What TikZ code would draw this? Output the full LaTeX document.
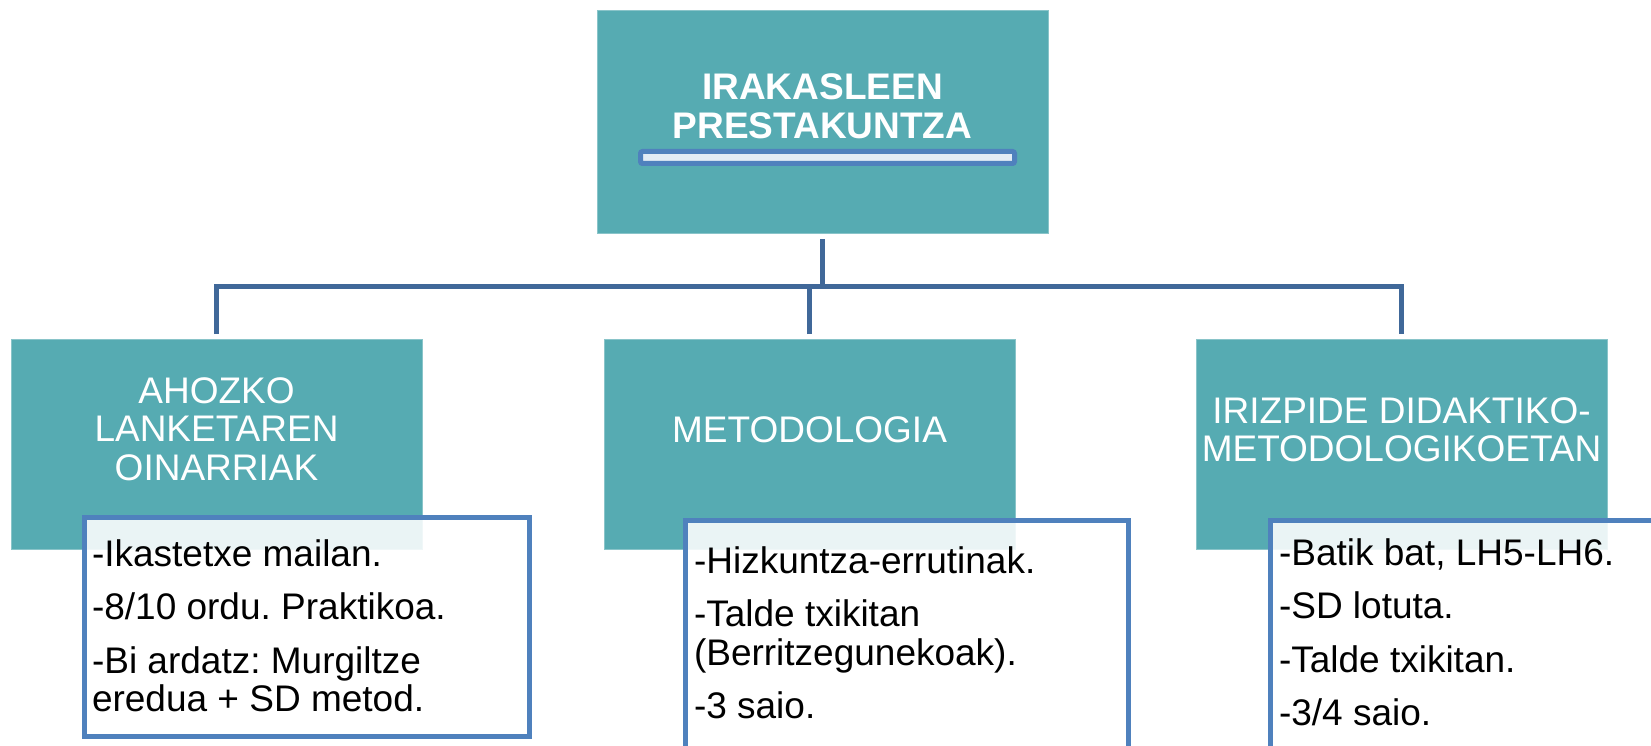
\documentclass[tikz,border=0pt]{standalone}
\usepackage{fontspec}
\setmainfont{Liberation Sans}
\frenchspacing
\definecolor{teal1}{RGB}{86,171,178}
\definecolor{connc}{RGB}{64,104,153}
\definecolor{dblue}{RGB}{79,129,189}
\definecolor{barfill}{RGB}{226,236,245}
\begin{document}
\begin{tikzpicture}[x=1pt,y=-1pt,
  lvbox/.style={rectangle, fill=teal1, draw=teal1!70!white, line width=0.8pt, inner sep=0pt, outer sep=0pt, anchor=north west},
  detbox/.style={rectangle, fill=white, fill opacity=0.88, draw=dblue, draw opacity=1, line width=5pt, inner sep=0pt, outer sep=0pt, anchor=north west},
  connline/.style={draw=connc, line width=5pt},
  headtxt/.style={text=white, inner sep=0pt, outer sep=0pt, anchor=base, font=\fontsize{37}{38.5}\selectfont\frenchspacing},
  dettxt/.style={text=black, inner sep=0pt, outer sep=0pt, anchor=base west, font=\fontsize{37}{38.5}\selectfont\frenchspacing}]

\useasboundingbox (0,0) rectangle (1651,746);
\fill[white] (0,0) rectangle (1651,746);
\clip (0,0) rectangle (1651,746);

% boxes
\node[lvbox, minimum width=451pt, minimum height=223pt] (top) at (597,10) {};
\node[lvbox, minimum width=411pt, minimum height=209.5pt] (b1) at (11,339.5) {};
\node[lvbox, minimum width=411pt, minimum height=209.5pt] (b2) at (604,339.5) {};
\node[lvbox, minimum width=411pt, minimum height=209.5pt] (b3) at (1196,339.5) {};

% connectors
\coordinate (bus) at (0,286.5);
\draw[connline] ([yshift=-6pt]top.south) -- (top.south |- bus);
\draw[connline] ([yshift=5.5pt]b1.north) -- (b1.north |- bus) -- (b3.north |- bus) -- ([yshift=5.5pt]b3.north);
\draw[connline] ([yshift=5.5pt]b2.north) -- (b2.north |- bus);

% title
\node[headtxt] (ttl) at (822.5,100) {\parbox[t]{440pt}{\centering\bfseries IRAKASLEEN\\PRESTAKUNTZA}};
\node[draw=dblue, fill=barfill, line width=5pt, rounded corners=2pt, inner sep=0pt, outer sep=0pt, anchor=north west, minimum width=374pt, minimum height=12pt] (bar) at (640.5,151.5) {};

% level-1 texts
\node[headtxt] (l1) at (216.5,403) {\parbox[t]{400pt}{\centering AHOZKO\\LANKETAREN\\OINARRIAK}};
\node[headtxt] (l2) at (809.5,442) {\parbox[t]{400pt}{\centering METODOLOGIA}};
\node[headtxt] (l3) at (1401.5,423) {\parbox[t]{405pt}{\centering IRIZPIDE DIDAKTIKO-\\METODOLOGIKOETAN}};

% detail boxes
\node[detbox, minimum width=445pt, minimum height=219pt] (d1) at (84.5,517.5) {};
\node[detbox, minimum width=443pt, minimum height=228.5pt] (d2) at (685.5,520.5) {};
\node[detbox, minimum width=445pt, minimum height=228.5pt] (d3) at (1270.5,520.5) {};

% detail texts
\node[dettxt] (t1) at (92,566) {\parbox[t]{430pt}{\raggedright -Ikastetxe mailan.\\[15pt]-8/10 ordu. Praktikoa.\\[15pt]-Bi ardatz: Murgiltze\\eredua + SD metod.}};
\node[dettxt] (t2) at (694,573) {\parbox[t]{430pt}{\raggedright -Hizkuntza-errutinak.\\[15pt]-Talde txikitan\\(Berritzegunekoak).\\[15pt]-3 saio.}};
\node[dettxt] (t3) at (1279,565) {\parbox[t]{430pt}{\raggedright -Batik bat, LH5-LH6.\\[15pt]-SD lotuta.\\[15pt]-Talde txikitan.\\[15pt]-3/4 saio.}};
\end{tikzpicture}
\end{document}
